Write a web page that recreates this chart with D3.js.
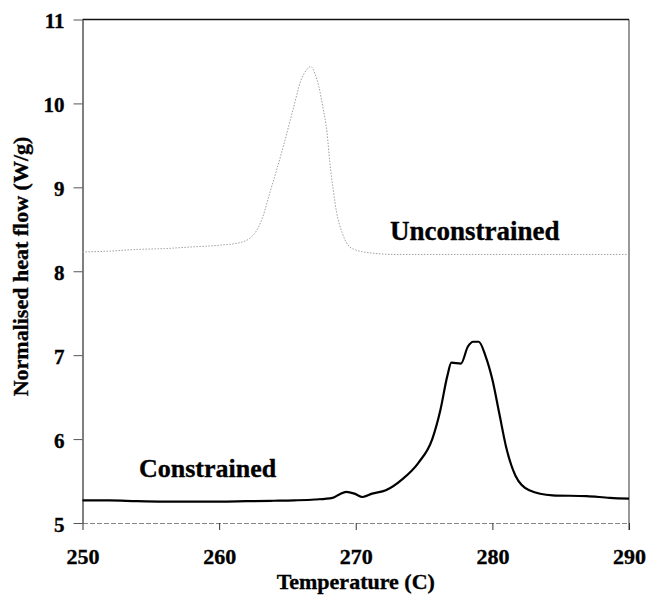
<!DOCTYPE html>
<html>
<head>
<meta charset="utf-8">
<script src="https://cdn.jsdelivr.net/npm/d3@7"></script>
<style>
    body { margin: 0; background: #fff; }
    text { font-family: "Liberation Serif", "Times New Roman", serif; font-weight: bold; fill: #000; stroke: #000; stroke-width: 0.35px; }
</style>
</head>
<body>
<div id="chart"></div>
<script>
// temperature (C) and normalised heat flow (W/g)
const unconstrainedT = [250, 252, 254, 256, 258, 260, 261.5, 262.5, 263.2, 263.7, 264.2, 264.7, 265.4, 266.0, 266.4, 266.7, 267.0, 267.3, 267.6, 267.9, 268.1, 268.35, 268.6, 269.0, 269.4, 269.9, 271, 273, 276, 280, 285, 290];
const unconstrainedHF = [8.23, 8.24, 8.26, 8.27, 8.29, 8.31, 8.34, 8.43, 8.65, 8.93, 9.2, 9.49, 9.92, 10.28, 10.40, 10.44, 10.36, 10.2, 9.95, 9.65, 9.3, 8.97, 8.7, 8.46, 8.32, 8.26, 8.22, 8.2, 8.2, 8.2, 8.2, 8.2];

const constrainedT = [250, 252, 254, 256, 258, 260, 262, 264, 265.5, 267, 268.3, 268.8, 269.3, 269.9, 270.5, 271.2, 272.2, 273.4, 274.6, 275.6, 276.2, 276.7, 277.0, 277.7, 278.2, 278.6, 279.0, 279.5, 280.0, 280.5, 281.0, 281.7, 282.7, 284.4, 286.9, 288.6, 290];
const constrainedHF = [5.27, 5.27, 5.26, 5.255, 5.255, 5.255, 5.26, 5.265, 5.27, 5.28, 5.30, 5.34, 5.37, 5.35, 5.31, 5.35, 5.39, 5.52, 5.72, 6.0, 6.35, 6.75, 6.91, 6.90, 7.10, 7.16, 7.16, 6.99, 6.71, 6.31, 5.91, 5.56, 5.39, 5.33, 5.32, 5.30, 5.29];

const xTicks = [250, 260, 270, 280, 290];
const yTicks = [5, 6, 7, 8, 9, 10, 11];

const width = 647, height = 605;
const margin = { top: 19.5, right: 18, bottom: 82, left: 82.5 };

const svg = d3.select("#chart")
    .append("svg")
    .attr("width", width)
    .attr("height", height);

const x = d3.scaleLinear()
    .domain([250, 290])
    .range([margin.left, width - margin.right]);

const y = d3.scaleLinear()
    .domain([5, 11])
    .range([height - margin.bottom, margin.top]);

// frame: top and right borders
svg.append("line")
    .attr("x1", x(250)).attr("x2", x(290))
    .attr("y1", y(11)).attr("y2", y(11))
    .attr("stroke", "#111").attr("stroke-width", 1.5);

svg.append("line")
    .attr("x1", x(290)).attr("x2", x(290))
    .attr("y1", y(11)).attr("y2", y(5) + 7)
    .attr("stroke", "#333").attr("stroke-width", 1);

// bottom axis (grey, broken-looking line from the scan)
let xAxis = svg.append("g")
    .attr("transform", `translate(0, ${y(5)})`)
    .call(d3.axisBottom(x).tickValues(xTicks).tickSize(7).tickSizeOuter(0).tickPadding(18).tickFormat(d3.format("d")));
xAxis.select(".domain")
    .attr("stroke", "#888")
    .attr("stroke-dasharray", "5,2");
xAxis.selectAll(".tick line").attr("stroke", "#333");
xAxis.selectAll(".tick text")
    .attr("font-size", "22px")
    .attr("font-family", null);

// left axis
let yAxis = svg.append("g")
    .attr("transform", `translate(${x(250)}, 0)`)
    .call(d3.axisLeft(y).tickValues(yTicks).tickSize(9).tickSizeOuter(0).tickPadding(9).tickFormat(d3.format("d")));
yAxis.select(".domain")
    .attr("stroke", "#555")
    .attr("stroke-width", 1.5);
yAxis.selectAll(".tick line").attr("stroke", "#555");
yAxis.selectAll(".tick text")
    .attr("font-size", "21px")
    .attr("dy", "0.4em")
    .attr("font-family", null);

// the two curves
const line = d3.line()
    .x(d => x(d[0]))
    .y(d => y(d[1]))
    .curve(d3.curveMonotoneX);

svg.append("path")
    .datum(d3.zip(unconstrainedT, unconstrainedHF))
    .attr("fill", "none")
    .attr("stroke", "#a0a0a0")
    .attr("stroke-width", 1)
    .attr("stroke-dasharray", "1.5,1.5")
    .attr("d", line);

svg.append("path")
    .datum(d3.zip(constrainedT, constrainedHF))
    .attr("fill", "none")
    .attr("stroke", "#000")
    .attr("stroke-width", 2.2)
    .attr("stroke-linejoin", "round")
    .attr("d", line);

// curve labels
svg.append("text")
    .attr("x", 390)
    .attr("y", 239.5)
    .attr("font-size", "27px")
    .text("Unconstrained");

svg.append("text")
    .attr("x", 139)
    .attr("y", 476.5)
    .attr("font-size", "26px")
    .text("Constrained");

// axis titles
svg.append("text")
    .attr("x", (x(250) + x(290)) / 2)
    .attr("y", 589)
    .attr("text-anchor", "middle")
    .attr("font-size", "22px")
    .text("Temperature (C)");

svg.append("text")
    .attr("transform", `translate(28, 266.5) rotate(-90)`)
    .attr("text-anchor", "middle")
    .attr("font-size", "22px")
    .text("Normalised heat flow (W/g)");
</script>
</body>
</html>
